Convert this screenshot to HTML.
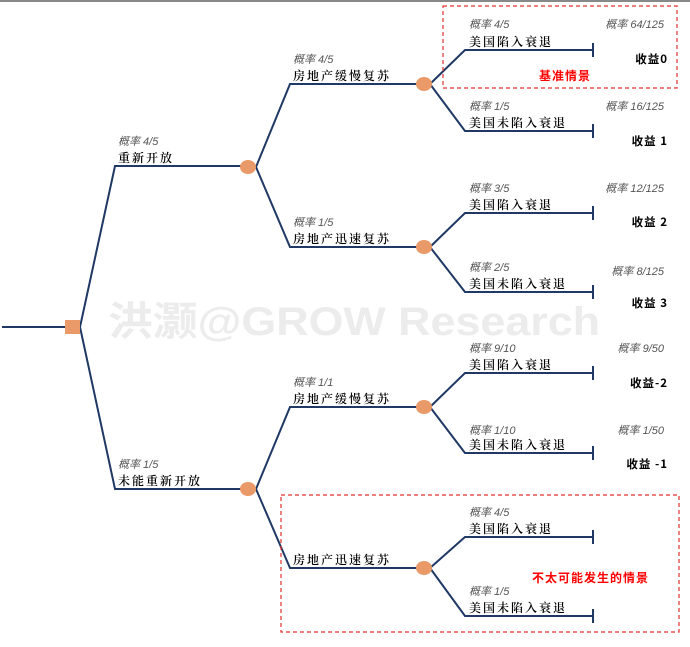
<!DOCTYPE html>
<html><head><meta charset="utf-8"><style>
body{margin:0;background:#fff}
svg{display:block}
.p{font:italic 11px "Liberation Sans","Noto Sans CJK SC",sans-serif;fill:#555}
.n{font:12px "Noto Serif CJK SC","Noto Sans CJK SC",sans-serif;fill:#000;letter-spacing:2px;font-weight:600}
.r{font:bold 11.5px "Noto Sans CJK SC",sans-serif;fill:#000;letter-spacing:1px}
.red{font:bold 12px "Noto Sans CJK SC",sans-serif;fill:#f00;letter-spacing:1px}
</style></head><body>
<svg width="690" height="647" viewBox="0 0 690 647">
<rect x="0" y="0" width="690" height="2" fill="#888"/>
<text x="108" y="335" font-family="Liberation Sans,Noto Sans CJK SC,sans-serif" font-size="40" font-weight="bold" fill="#ececec" textLength="492" lengthAdjust="spacingAndGlyphs">洪灏@GROW Research</text>
<g fill="none" stroke="#1f3864" stroke-width="2">
<path d="M2 327H66"/>
<path d="M80 327L115 166H242M80 327L115 489H242"/>
<path d="M256 167L290 84H418M256 167L290 247H418"/>
<path d="M256 489L290 407H418M256 489L290 568H418"/>
<path d="M430 84L465 50H593M430 84L465 131H593"/>
<path d="M430 247L465 213H593M430 247L465 292H593"/>
<path d="M430 407L465 373H593M430 407L465 453H593"/>
<path d="M430 568L465 537H593M430 568L465 616H593"/>
<path d="M593 43v14M593 124v14M593 206v14M593 285v14M593 366v14M593 446v14M593 530v14M593 609v14"/>
</g>
<rect x="65" y="320" width="15" height="14" fill="#e99a68"/>
<g fill="#e99a68">
<ellipse cx="248" cy="167" rx="8" ry="7"/><ellipse cx="248" cy="489" rx="8" ry="7"/>
<ellipse cx="424" cy="84" rx="8" ry="7"/><ellipse cx="424" cy="247" rx="8" ry="7"/>
<ellipse cx="424" cy="407" rx="8" ry="7"/><ellipse cx="424" cy="568" rx="8" ry="7"/>
</g>
<g fill="none" stroke="#e03030" stroke-width="1.2" stroke-dasharray="4,3">
<rect x="443" y="6" width="234" height="82"/>
<rect x="281" y="495" width="398" height="137"/>
</g>
<text class="p" x="118" y="145">概率 4/5</text><text class="n" x="118" y="162">重新开放</text>
<text class="p" x="118" y="468">概率 1/5</text><text class="n" x="118" y="485">未能重新开放</text>
<text class="p" x="293" y="63">概率  4/5</text><text class="n" x="293" y="80">房地产缓慢复苏</text>
<text class="p" x="293" y="226">概率 1/5</text><text class="n" x="293" y="243">房地产迅速复苏</text>
<text class="p" x="293" y="386">概率 1/1</text><text class="n" x="293" y="403">房地产缓慢复苏</text>
<text class="n" x="293" y="564">房地产迅速复苏</text>
<g>
<text class="p" x="469" y="28">概率 4/5</text><text class="n" x="469" y="46">美国陷入衰退</text>
<text class="p" x="469" y="110">概率 1/5</text><text class="n" x="469" y="127">美国未陷入衰退</text>
<text class="p" x="469" y="192">概率 3/5</text><text class="n" x="469" y="209">美国陷入衰退</text>
<text class="p" x="469" y="271">概率 2/5</text><text class="n" x="469" y="288">美国未陷入衰退</text>
<text class="p" x="469" y="352">概率 9/10</text><text class="n" x="469" y="369">美国陷入衰退</text>
<text class="p" x="469" y="434">概率 1/10</text><text class="n" x="469" y="449">美国未陷入衰退</text>
<text class="p" x="469" y="516">概率  4/5</text><text class="n" x="469" y="533">美国陷入衰退</text>
<text class="p" x="469" y="595">概率 1/5</text><text class="n" x="469" y="612">美国未陷入衰退</text>
</g>
<g text-anchor="end">
<text class="p" x="664" y="28">概率 64/125</text>
<text class="p" x="664" y="110">概率 16/125</text>
<text class="p" x="664" y="192">概率 12/125</text>
<text class="p" x="664" y="275">概率 8/125</text>
<text class="p" x="664" y="352">概率 9/50</text>
<text class="p" x="664" y="434">概率 1/50</text>
<text class="r" x="668" y="63">收益0</text>
<text class="r" x="668" y="145">收益 1</text>
<text class="r" x="668" y="226">收益 2</text>
<text class="r" x="668" y="307">收益 3</text>
<text class="r" x="668" y="387">收益-2</text>
<text class="r" x="668" y="468">收益 -1</text>
</g>
<text class="red" x="539" y="80">基准情景</text>
<text class="red" x="532" y="582">不太可能发生的情景</text>
</svg>
</body></html>
